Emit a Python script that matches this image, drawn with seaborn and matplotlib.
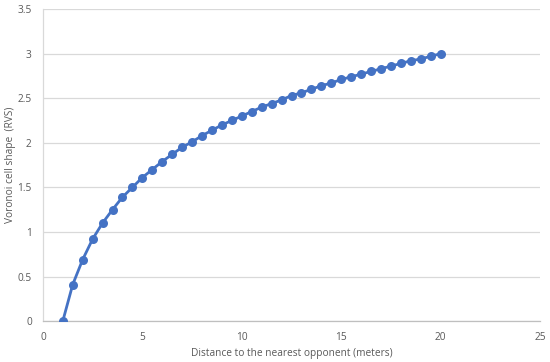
import matplotlib
matplotlib.use('Agg')
import matplotlib.pyplot as plt
import seaborn as sns
import pandas as pd

# --- Data ---
distance = [1, 1.5, 2, 2.5, 3, 3.5, 4, 4.5, 5, 5.5, 6, 6.5, 7, 7.5, 8, 8.5, 9, 9.5, 10,
            10.5, 11, 11.5, 12, 12.5, 13, 13.5, 14, 14.5, 15, 15.5, 16, 16.5, 17, 17.5,
            18, 18.5, 19, 19.5, 20]
rvs = [0.00, 0.41, 0.69, 0.92, 1.10, 1.25, 1.39, 1.50, 1.61, 1.70, 1.79, 1.87, 1.95,
       2.01, 2.08, 2.14, 2.20, 2.25, 2.30, 2.35, 2.40, 2.44, 2.48, 2.53, 2.56, 2.60,
       2.64, 2.67, 2.71, 2.74, 2.77, 2.80, 2.83, 2.86, 2.89, 2.92, 2.94, 2.97, 3.00]
x_ticks = [0, 5, 10, 15, 20, 25]
y_ticks = [0, 0.5, 1, 1.5, 2, 2.5, 3, 3.5]

df = pd.DataFrame({'distance': distance, 'rvs': rvs})

sns.set_theme(style='white')
plt.rcParams['font.family'] = ['Open Sans', 'DejaVu Sans']

fig = plt.figure(figsize=(5.5, 3.62), dpi=100)
ax = fig.add_axes([0.078, 0.113, 0.904, 0.862])

sns.lineplot(data=df, x='distance', y='rvs', ax=ax, color='#4472C4', linewidth=2,
             marker='o', markersize=6.5, markeredgewidth=0, zorder=3)

ax.set_xlim(0, 25)
ax.set_ylim(0, 3.5)
ax.set_xticks(x_ticks)
ax.set_xticklabels([str(t) for t in x_ticks])
ax.set_yticks(y_ticks)
ax.set_yticklabels([f'{t:g}' for t in y_ticks])
ax.grid(axis='y', color='#d9d9d9', linewidth=0.9)
ax.set_axisbelow(True)

for side in ['top', 'right']:
    ax.spines[side].set_visible(False)
ax.spines['left'].set_color('#d9d9d9')
ax.spines['bottom'].set_color('#bfbfbf')
ax.spines['left'].set_linewidth(0.9)
ax.spines['bottom'].set_linewidth(0.9)

ax.tick_params(axis='both', length=0, labelsize=7.3, colors='#595959', pad=8)
ax.set_xlabel('Distance to the nearest opponent (meters)', fontsize=7.3, color='#595959')
ax.set_ylabel('Voronoi cell shape  (RVS)', fontsize=7.3, color='#595959')
ax.yaxis.set_label_coords(-0.054, 0.5)
ax.xaxis.set_label_coords(0.5, -0.085)

fig.savefig('out.png', dpi=100)
